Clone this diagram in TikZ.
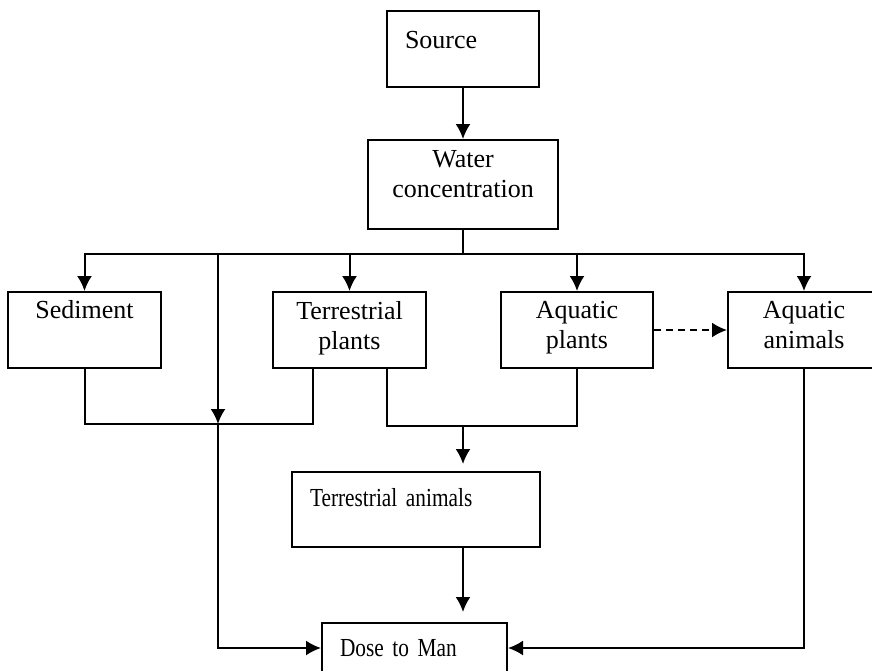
\documentclass[tikz,border=0pt]{standalone}
\usepackage{fontspec}
\setmainfont{Liberation Serif}
\newfontfamily\narrowserif{Liberation Serif}[FakeStretch=0.82]
\usetikzlibrary{positioning,arrows.meta,calc}
\tikzset{
    box/.style = {
        draw,
        shape=rectangle,
        line width=2pt,
        align=center,
        inner sep=0pt,
        font=\fontsize{26}{30}\selectfont
    },
    leftbox/.style = {
        box,
        align=left,
        inner xsep=18pt
    },
    narrowbox/.style = {
        leftbox,
        font=\fontsize{26}{30}\narrowserif
    },
    >={Latex[length=15pt,width=15pt]},
}

\begin{document}
\begin{tikzpicture}[x=1pt, y=-1pt, line width=2pt]
        \useasboundingbox (0,0) rectangle (872,670);
        \clip (0,0) rectangle (872,670);

        \node[leftbox, text width=116pt, minimum height=76pt, text depth=19pt] (source) at (463,49) {Source};
        \node[box, minimum width=190pt, minimum height=89pt, text depth=21pt] (water) at (463,184.5) {Water\\concentration};

        \node[box, minimum width=153pt, minimum height=76pt, text depth=41pt] (sediment) at (84.5,330) {Sediment};
        \node[box, minimum width=153pt, minimum height=76pt, text depth=10pt] (terrplants) at (349.5,330) {Terrestrial\\plants};
        \node[box, minimum width=152pt, minimum height=76pt, text depth=10pt] (aqplants) at (577,330) {Aquatic\\plants};
        \node[box, minimum width=152pt, minimum height=76pt, text depth=10pt] (aqanimals) at (804,330) {Aquatic\\animals};

        \node[narrowbox, text width=212pt, minimum height=75pt, text depth=24pt] (terranimals) at (416,509.5) {Terrestrial animals};
        \node[narrowbox, text width=149pt, minimum height=50pt] (dose) at (414.5,648) {Dose to Man};

        \coordinate (split) at (463,254);
        \coordinate (tap) at (218,254);
        \coordinate (joinL) at (218,424);
        \coordinate (joinR) at (463,426);

        \path[draw, ->] (source) -- (water);
        \path[draw, -] (water) -- (split);
        \path[draw, ->] (split) -| (sediment);
        \path[draw, ->] (split) -| (terrplants);
        \path[draw, ->] (split) -| (aqplants);
        \path[draw, ->] (split) -| (aqanimals);

        \path[draw, ->] (tap) -- (joinL);
        \path[draw, -] (sediment) |- (joinL);
        \path[draw, -] ([xshift=-37pt]terrplants.south) |- (joinL);
        \path[draw, ->] (joinL) |- (dose);

        \path[draw, -] ([xshift=37pt]terrplants.south) |- (joinR);
        \path[draw, -] (aqplants) |- (joinR);
        \path[draw, ->, shorten >=7pt] (joinR) -- (joinR |- terranimals.north);
        \path[draw, ->, shorten >=10pt] (terranimals.south -| joinR) -- (joinR |- dose.north);

        \path[draw, ->, dash pattern=on 7pt off 5pt] (aqplants) -- (aqanimals);
        \path[draw, ->] (aqanimals) |- (dose);
    \end{tikzpicture}
\end{document}
